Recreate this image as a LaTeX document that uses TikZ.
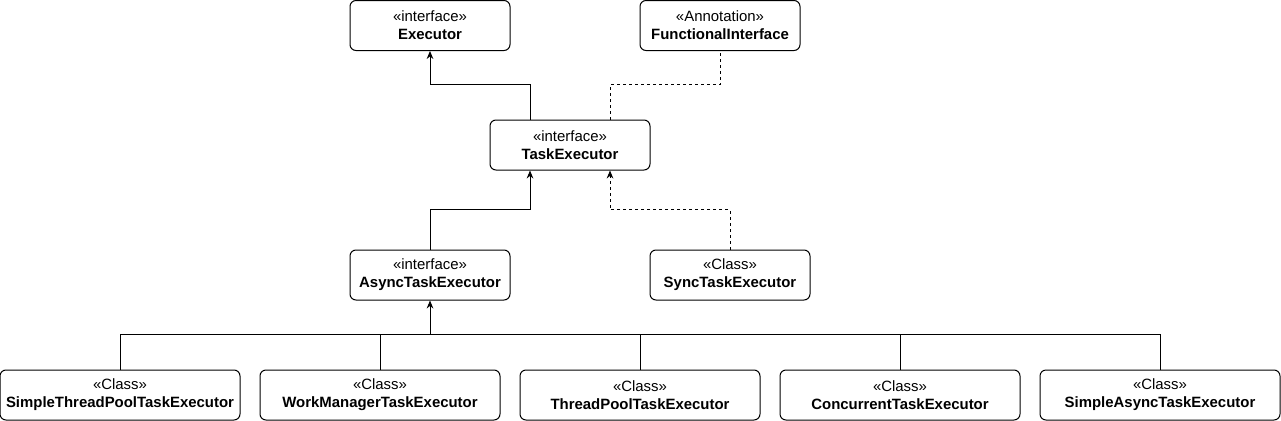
\documentclass[tikz,border=0pt]{standalone}
\usepackage{fontspec}
\setmainfont{Liberation Sans}
\usetikzlibrary{arrows.meta}
\tikzset{
  uml/.style={draw, rounded corners=4.5pt, line width=0.75pt, align=center,
    minimum width=120pt, minimum height=37.5pt, inner sep=0pt,
    font=\fontsize{11.2}{13.5}\selectfont},
  wide/.style={uml, minimum width=180pt},
  conn/.style={line width=0.75pt},
  arr/.style={conn, -{Stealth[length=6pt,width=5pt]}},
  dashline/.style={conn, dash pattern=on 2.25pt off 2.25pt}
}
\newcommand{\stereo}[2]{«#1»\\\textbf{#2}}
\begin{document}
\begin{tikzpicture}[x=0.75pt,y=-0.75pt]
\useasboundingbox (0,0) rectangle (1281,421);
\node[uml] (ex) at (430,25.5) {\stereo{interface}{Executor}};
\node[uml] (fi) at (720,25.5) {\stereo{Annotation}{FunctionalInterface}};
\node[uml] (te) at (570,145) {\stereo{interface}{TaskExecutor}};
\node[uml] (as) at (430,275) {\stereo{interface}{AsyncTaskExecutor}};
\node[uml] (sy) at (730,275) {\stereo{Class}{SyncTaskExecutor}};
\node[wide] (b1) at (120,395) {\stereo{Class}{SimpleThreadPoolTaskExecutor}};
\node[wide] (b2) at (380,395) {\stereo{Class}{WorkManagerTaskExecutor}};
\node[wide] (b3) at (640,395) {\stereo{Class}{ThreadPoolTaskExecutor}};
\node[wide] (b4) at (900,395) {\stereo{Class}{ConcurrentTaskExecutor}};
\node[wide] (b5) at (1160,395) {\stereo{Class}{SimpleAsyncTaskExecutor}};

\draw[arr] ([xshift=-30pt]te.north) -- ++(0,-35) -| (ex.south);
\draw[dashline] ([xshift=30pt]te.north) -- ++(0,-35) -| (fi.south);
\draw[arr] (as.north) -- ++(0,-40) -| ([xshift=-30pt]te.south);
\draw[arr,dashline] (sy.north) -- ++(0,-40) -| ([xshift=30pt]te.south);

\coordinate (bus) at ([yshift=26.25pt]b1.north -| as.south);
\draw[conn] (b1.north) |- ([yshift=26.25pt]b5.north) -- (b5.north);
\draw[conn] (b2.north) -- (b2.north |- bus);
\draw[conn] (b3.north) -- (b3.north |- bus);
\draw[conn] (b4.north) -- (b4.north |- bus);
\draw[arr] (bus) -- (as.south);
\end{tikzpicture}
\end{document}
